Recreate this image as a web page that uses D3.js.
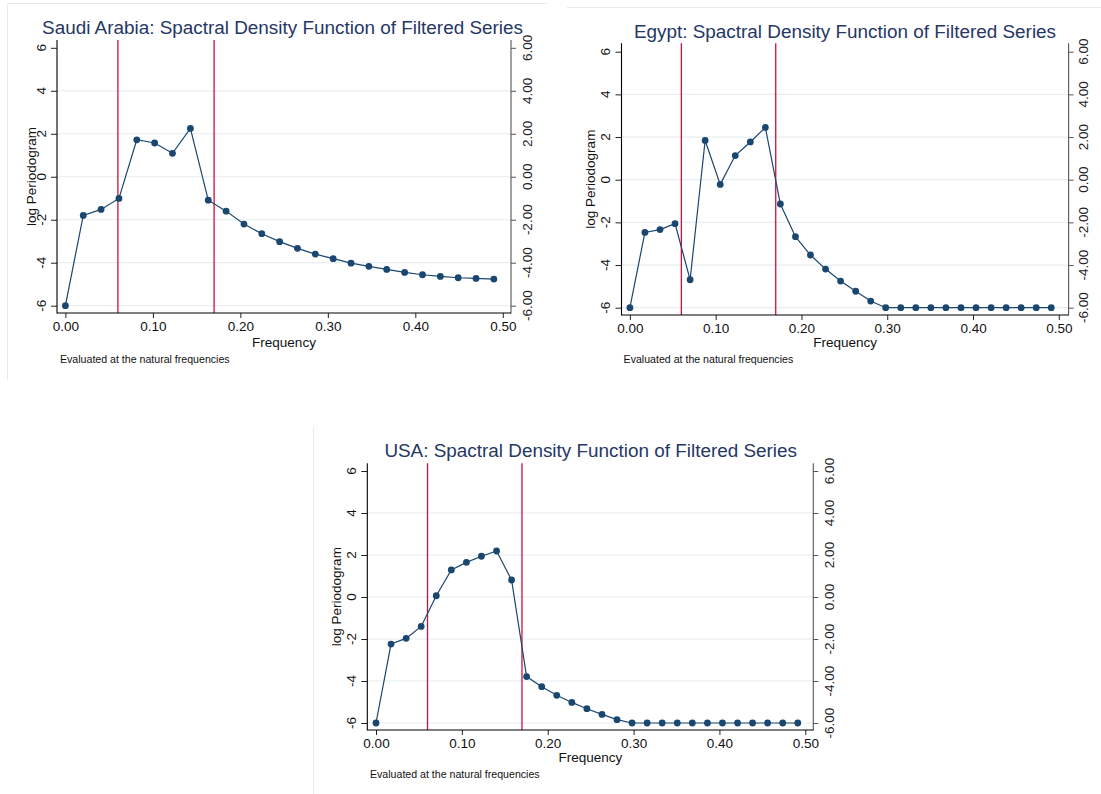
<!DOCTYPE html>
<html>
<head>
<meta charset="utf-8">
<script src="https://cdn.jsdelivr.net/npm/d3@7/dist/d3.min.js"></script>
<style>
html,body{margin:0;padding:0;background:#fff;}
svg{display:block;}
text{font-family:"Liberation Sans",Arial,Helvetica,sans-serif;}
</style>
</head>
<body>
<svg id="chart" width="1101" height="794"></svg>
<script>
// ---------- data ----------
const freqSaudi = [0, 0.0204, 0.0408, 0.0612, 0.0816, 0.1020, 0.1224, 0.1429, 0.1633, 0.1837, 0.2041, 0.2245, 0.2449, 0.2653, 0.2857, 0.3061, 0.3265, 0.3469, 0.3673, 0.3878, 0.4082, 0.4286, 0.4490, 0.4694, 0.4898];
const logPerSaudi = [-6, -1.80, -1.52, -1.01, 1.72, 1.57, 1.09, 2.25, -1.09, -1.60, -2.20, -2.65, -3.02, -3.33, -3.60, -3.81, -4.02, -4.17, -4.31, -4.45, -4.56, -4.64, -4.70, -4.73, -4.76];

const freqEgypt = [0, 0.0175, 0.0351, 0.0526, 0.0702, 0.0877, 0.1053, 0.1228, 0.1404, 0.1579, 0.1754, 0.1930, 0.2105, 0.2281, 0.2456, 0.2632, 0.2807, 0.2982, 0.3158, 0.3333, 0.3509, 0.3684, 0.3860, 0.4035, 0.4211, 0.4386, 0.4561, 0.4737, 0.4912];
const logPerEgypt = [-6, -2.47, -2.34, -2.06, -4.69, 1.84, -0.22, 1.13, 1.77, 2.45, -1.14, -2.67, -3.53, -4.19, -4.75, -5.23, -5.69, -6, -6, -6, -6, -6, -6, -6, -6, -6, -6, -6, -6];

const freqUSA = [0, 0.0175, 0.0351, 0.0526, 0.0702, 0.0877, 0.1053, 0.1228, 0.1404, 0.1579, 0.1754, 0.1930, 0.2105, 0.2281, 0.2456, 0.2632, 0.2807, 0.2982, 0.3158, 0.3333, 0.3509, 0.3684, 0.3860, 0.4035, 0.4211, 0.4386, 0.4561, 0.4737, 0.4912];
const logPerUSA = [-6, -2.24, -1.97, -1.40, 0.06, 1.29, 1.65, 1.94, 2.19, 0.81, -3.79, -4.27, -4.68, -5.02, -5.32, -5.59, -5.84, -6, -6, -6, -6, -6, -6, -6, -6, -6, -6, -6, -6];

const bandLines = [0.06, 0.17];
const xTicks = [0, 0.1, 0.2, 0.3, 0.4, 0.5];
const yTicks = [-6, -4, -2, 0, 2, 4, 6];
const gridTicks = [-6, -4, -2, 0, 2, 4];

const titles = [
  "Saudi Arabia: Spactral Density Function of Filtered Series",
  "Egypt: Spactral Density Function of Filtered Series",
  "USA: Spactral Density Function of Filtered Series"
];
const xTitle = "Frequency";
const yTitle = "log Periodogram";
const note = "Evaluated at the natural frequencies";

// ---------- layout ----------
const panels = [
  {freq: freqSaudi, vals: logPerSaudi, title: titles[0],
   L: 57, R: 511, T: 40, B: 313, x0: 65.4, x1: 502.8, y6: 47.8, yn6: 305.7,
   titleX: 282.5, titleY: 33.5, yTitleX: 31, yLabX: 41.7, rLabX: 527,
   xTitleY: 346.5, noteX: 60, noteY: 362.8},
  {freq: freqEgypt, vals: logPerEgypt, title: titles[1],
   L: 621.5, R: 1068.6, T: 43.3, B: 315, x0: 629.9, x1: 1058.8, y6: 51.7, yn6: 307.7,
   titleX: 845, titleY: 37.7, yTitleX: 590, yLabX: 605.5, rLabX: 1083,
   xTitleY: 347, noteX: 623.6, noteY: 363.3},
  {freq: freqUSA, vals: logPerUSA, title: titles[2],
   L: 367.3, R: 813.3, T: 463.3, B: 730, x0: 376, x1: 805.3, y6: 471, yn6: 723,
   titleX: 590.7, titleY: 456.7, yTitleX: 336.7, yLabX: 351.7, rLabX: 829,
   xTitleY: 761.7, noteX: 370, noteY: 778.3}
];

const svg = d3.select("#chart");
const NAVY = "#1a476f";
const RED = "#d0103a";
const GRID = "#e6eef0";
const fmtInt = d => String(d);
const fmt2 = d => d.toFixed(2);

// faint panel borders
const border = svg.append("g").attr("stroke", "#e9e9e9").attr("stroke-width", 1).attr("fill", "none");
border.append("path").attr("d", "M7.5,380 L7.5,3.5 L548,3.5");
border.append("path").attr("d", "M567,7.5 L1101,7.5");
border.append("path").attr("d", "M313.5,427 L313.5,794");

panels.forEach(p => {
  const g = svg.append("g");
  const x = d3.scaleLinear().domain([0, 0.5]).range([p.x0, p.x1]);
  const y = d3.scaleLinear().domain([-6, 6]).range([p.yn6, p.y6]);

  // grid lines
  g.append("g").selectAll("line").data(gridTicks).join("line")
    .attr("x1", p.L).attr("x2", p.R)
    .attr("y1", d => y(d)).attr("y2", d => y(d))
    .attr("stroke", GRID).attr("stroke-width", 1.2);

  // band lines
  g.append("g").selectAll("line").data(bandLines).join("line")
    .attr("x1", d => x(d)).attr("x2", d => x(d))
    .attr("y1", p.T).attr("y2", p.B)
    .attr("stroke", RED).attr("stroke-width", 1.3);

  // series line
  const pts = p.freq.map((f, i) => [f, p.vals[i]]);
  g.append("path").datum(pts)
    .attr("fill", "none").attr("stroke", NAVY).attr("stroke-width", 1.2)
    .attr("d", d3.line().x(d => x(d[0])).y(d => y(d[1])));
  g.append("g").selectAll("circle").data(pts).join("circle")
    .attr("cx", d => x(d[0])).attr("cy", d => y(d[1])).attr("r", 3.4)
    .attr("fill", NAVY);

  // left axis
  const la = g.append("g").attr("transform", `translate(${p.L},0)`)
    .call(d3.axisLeft(y).tickValues(yTicks).tickSize(6).tickFormat(""));
  la.select(".domain").remove();
  la.selectAll("line").attr("stroke", "#222");
  g.append("line").attr("x1", p.L).attr("x2", p.L).attr("y1", p.T).attr("y2", p.B + 0.5)
    .attr("stroke", "#000").attr("stroke-width", 1.1);
  g.append("g").selectAll("text").data(yTicks).join("text")
    .attr("transform", d => `translate(${p.yLabX},${y(d)}) rotate(-90)`)
    .attr("text-anchor", "middle").attr("dy", "0.35em")
    .attr("font-size", 13.5).attr("fill", "#111")
    .text(fmtInt);

  // right axis
  const ra = g.append("g").attr("transform", `translate(${p.R},0)`)
    .call(d3.axisRight(y).tickValues(yTicks).tickSize(5).tickFormat(""));
  ra.select(".domain").remove();
  ra.selectAll("line").attr("stroke", "#555");
  g.append("line").attr("x1", p.R).attr("x2", p.R).attr("y1", p.T).attr("y2", p.B + 0.5)
    .attr("stroke", "#555").attr("stroke-width", 1.1);
  g.append("g").selectAll("text").data(yTicks).join("text")
    .attr("transform", d => `translate(${p.rLabX},${y(d)}) rotate(-90)`)
    .attr("text-anchor", "middle").attr("dy", "0.35em")
    .attr("font-size", 13.5).attr("fill", "#222")
    .text(fmt2);

  // bottom axis
  const ba = g.append("g").attr("transform", `translate(0,${p.B})`)
    .call(d3.axisBottom(x).tickValues(xTicks).tickSize(5).tickFormat(fmt2));
  ba.select(".domain").remove();
  ba.selectAll("line").attr("stroke", "#222");
  ba.selectAll("text").attr("font-size", 13.5).attr("fill", "#111")
    .attr("font-family", '"Liberation Sans",Arial,sans-serif').attr("y", 8).attr("dy", "0.71em");
  g.append("line").attr("x1", p.L).attr("x2", p.R).attr("y1", p.B).attr("y2", p.B)
    .attr("stroke", "#000").attr("stroke-width", 1.1);

  // titles
  g.append("text").attr("x", p.titleX).attr("y", p.titleY)
    .attr("text-anchor", "middle").attr("font-size", 18.9).attr("fill", "#263765")
    .text(p.title);
  g.append("text").attr("x", (p.L + p.R) / 2).attr("y", p.xTitleY)
    .attr("text-anchor", "middle").attr("font-size", 13.5).attr("fill", "#111")
    .text(xTitle);
  g.append("text")
    .attr("transform", `translate(${p.yTitleX},${(p.T + p.B) / 2}) rotate(-90)`)
    .attr("text-anchor", "middle").attr("dy", "0.35em")
    .attr("font-size", 13.5).attr("fill", "#111")
    .text(yTitle);
  g.append("text").attr("x", p.noteX).attr("y", p.noteY)
    .attr("font-size", 10.6).attr("fill", "#111")
    .text(note);
});
</script>
</body>
</html>
